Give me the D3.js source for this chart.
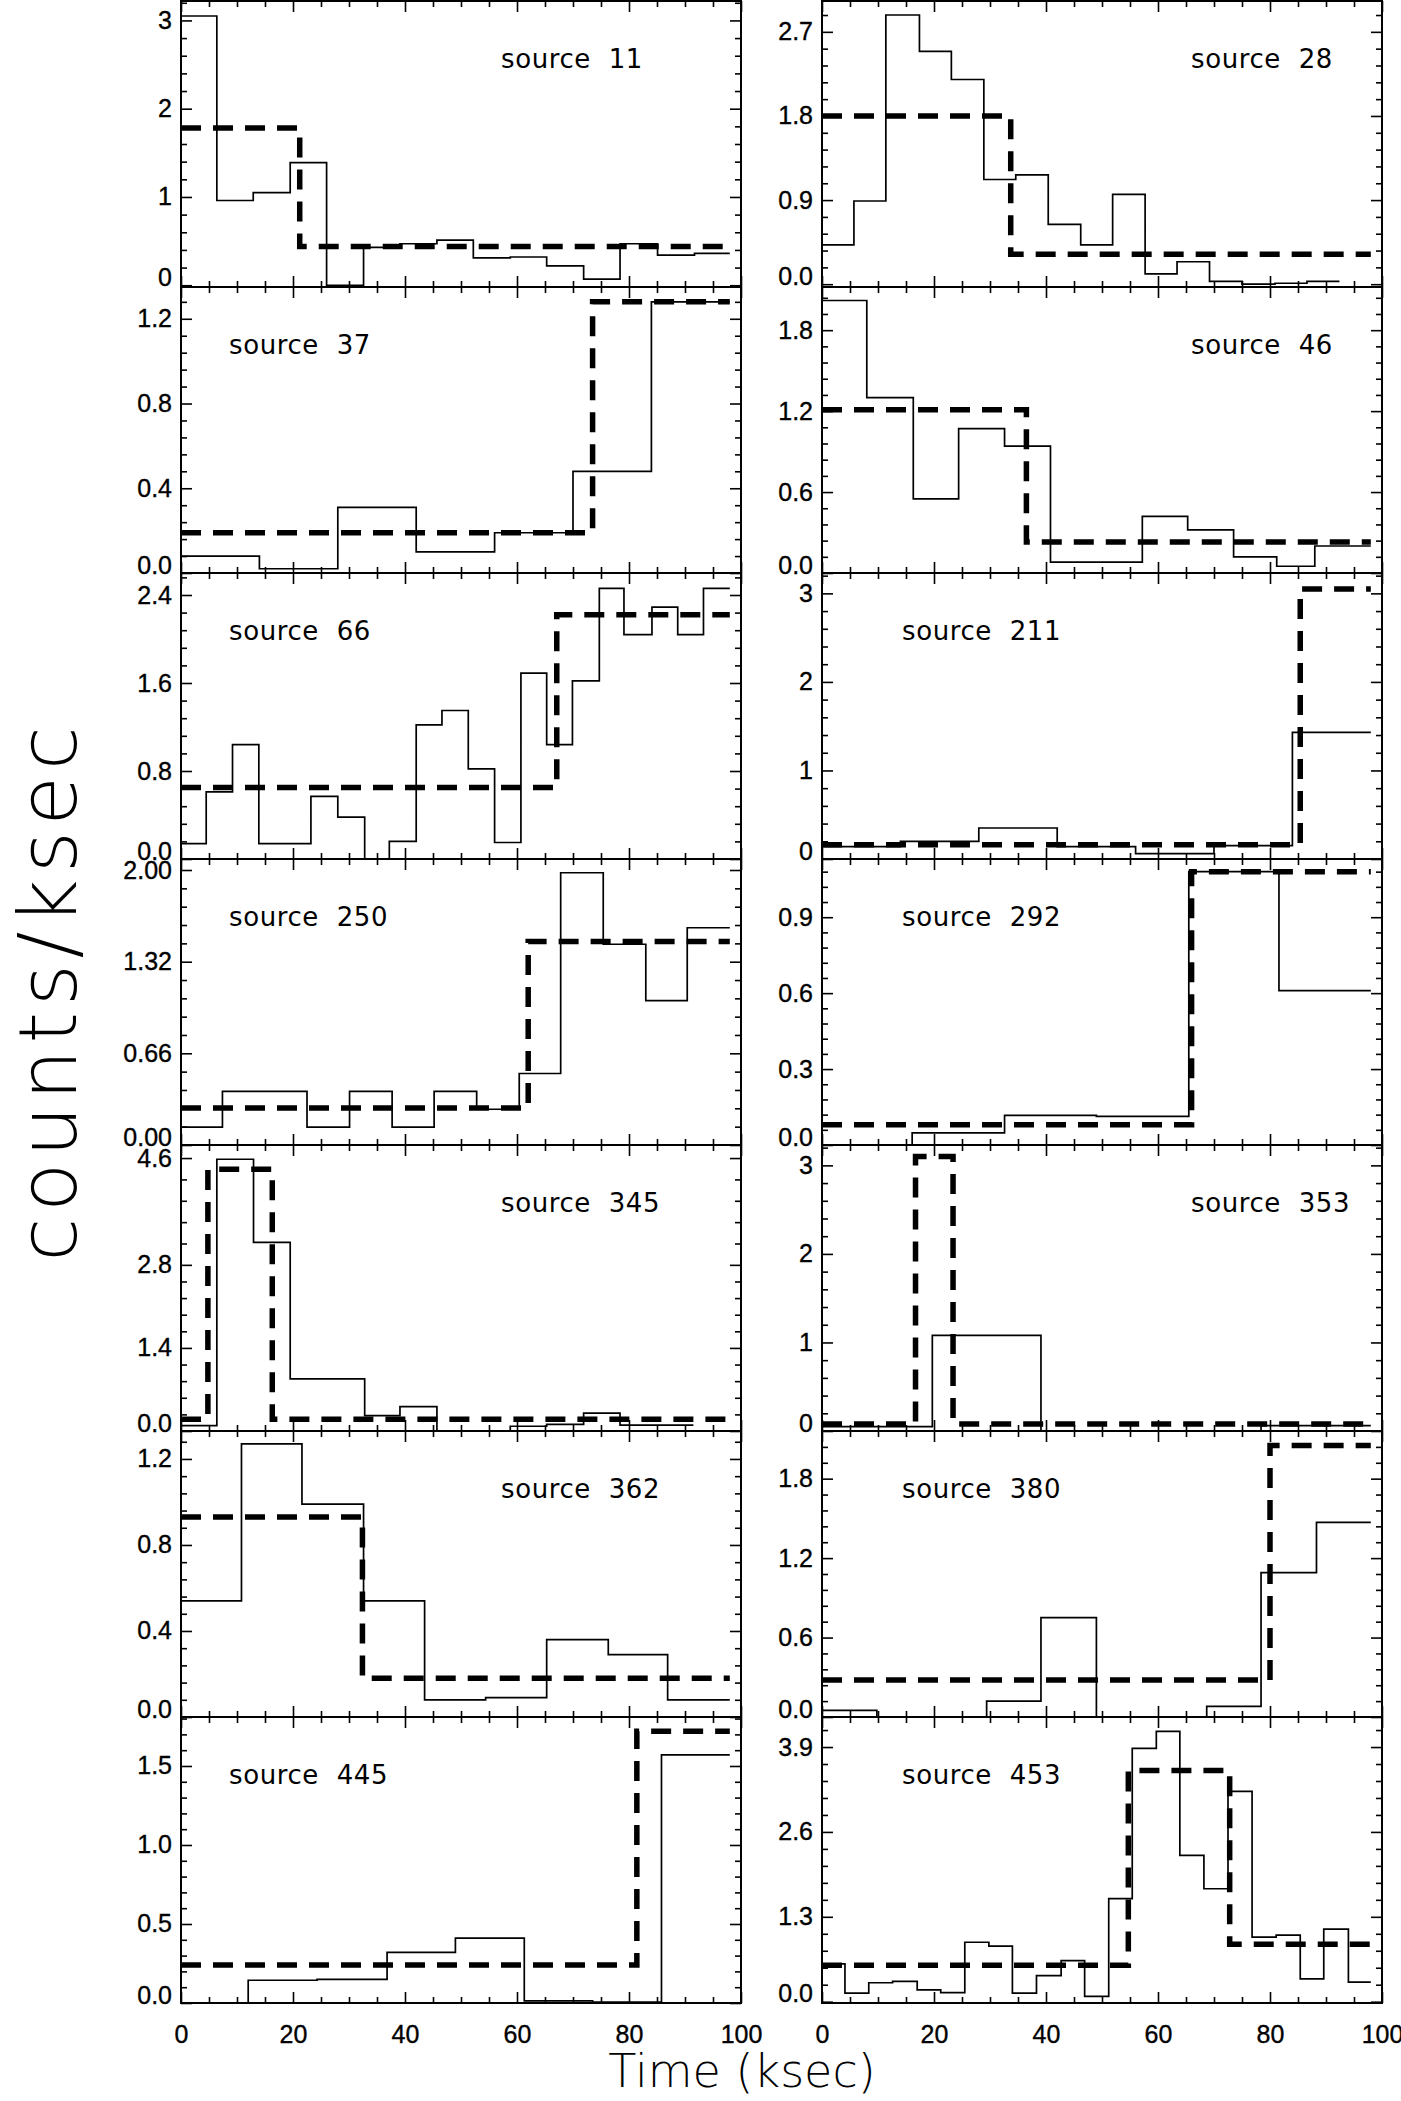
<!DOCTYPE html>
<html>
<head>
<meta charset="utf-8">
<script src="https://d3js.org/d3.v7.min.js"></script>
<style>
  body { margin: 0; background: #fff; }
  svg { display: block; }
  .tick text { font-family: "Liberation Sans", Arial, sans-serif; font-size: 25px; fill: #000; stroke: #000; stroke-width: 0.35px; }
  .tick line { stroke: #000; stroke-width: 1.6px; }
  .lbl { font-family: "DejaVu Sans", sans-serif; fill: #000; white-space: pre; }
</style>
</head>
<body>
<svg id="fig"></svg>
<script>
// panel order: row by row, left column then right column
var sources = [11, 28, 37, 46, 66, 211, 250, 292, 345, 353, 362, 380, 445, 453];

// light curve bins (ksec) and rates (counts/ksec)
var binEdges = [
  [0, 6.4, 12.9, 19.5, 26.0, 32.6, 39.1, 45.7, 52.2, 58.8, 65.3, 71.9, 78.4, 85.1, 91.7, 98.0],
  [0, 5.7, 11.4, 17.4, 23.1, 28.9, 34.6, 40.4, 46.2, 51.9, 57.7, 63.4, 69.2, 75.0, 80.9, 86.6, 92.4],
  [0, 14, 28, 42, 56, 70, 84, 98],
  [0, 8.0, 16.3, 24.4, 32.6, 40.8, 49.0, 57.2, 65.3, 73.5, 81.2, 88.0, 98.0],
  [0, 4.5, 9.2, 13.9, 18.5, 23.2, 28.0, 32.8, 37.2, 42.0, 46.6, 51.3, 56.0, 60.7, 65.3, 69.9, 74.7, 79.1, 84.1, 88.7, 93.3, 98.0],
  [0, 14, 28, 42, 56, 70, 84, 98],
  [0, 7.4, 14.9, 22.5, 30.1, 37.7, 45.2, 52.8, 60.4, 67.8, 75.4, 83.0, 90.4, 98.0],
  [0, 16.1, 32.6, 49.0, 65.5, 81.6, 98],
  [0, 6.4, 12.95, 19.5, 26.0, 32.8, 39.1, 45.7, 52.2, 58.8, 65.3, 71.9, 78.4, 85.0, 91.5],
  [0, 19.7, 39.1, 78.4, 98],
  [0, 10.8, 21.6, 32.6, 43.5, 54.4, 65.3, 76.3, 86.9, 98],
  [0, 9.8, 29.4, 39.1, 49.0, 68.7, 78.4, 88.3, 98],
  [0, 12.0, 24.3, 36.8, 49.0, 61.3, 73.5, 85.8, 98],
  [0, 4.1, 8.35, 12.6, 17.0, 21.2, 25.5, 29.8, 34.0, 38.3, 42.7, 46.9, 51.2, 55.4, 59.7, 63.9, 68.2, 72.5, 76.8, 81.1, 85.4, 89.6, 94.0, 98.0]
];
var rates = [
  [3.05, 0.96, 1.05, 1.39, 0.0, 0.43, 0.47, 0.51, 0.31, 0.32, 0.22, 0.07, 0.47, 0.34, 0.36],
  [0.42, 0.89, 2.88, 2.49, 2.19, 1.12, 1.17, 0.64, 0.42, 0.96, 0.11, 0.24, 0.03, 0.0, 0.01, 0.03],
  [0.08, 0.02, 0.31, 0.10, 0.19, 0.48, 1.28],
  [2.02, 1.30, 0.55, 1.07, 0.94, 0.08, 0.08, 0.42, 0.32, 0.12, 0.05, 0.20],
  [0.14, 0.61, 1.04, 0.14, 0.14, 0.57, 0.38, 0.0, 0.16, 1.22, 1.35, 0.82, 0.15, 1.69, 1.04, 1.62, 2.46, 2.04, 2.29, 2.04, 2.46],
  [0.14, 0.20, 0.35, 0.14, 0.06, 0.15, 1.43],
  [0.13, 0.39, 0.39, 0.13, 0.39, 0.13, 0.39, 0.26, 0.52, 1.98, 1.46, 1.05, 1.58],
  [0.0, 0.048, 0.117, 0.113, 1.08, 0.61],
  [0.09, 4.58, 3.18, 0.88, 0.88, 0.26, 0.41, 0.0, 0.0, 0.08, 0.11, 0.30, 0.10, 0.10],
  [0.05, 1.08, 0.0, 0.06],
  [0.54, 1.27, 0.99, 0.54, 0.08, 0.09, 0.36, 0.29, 0.08],
  [0.05, 0.0, 0.12, 0.75, 0.0, 0.08, 1.09, 1.47],
  [0.0, 0.144, 0.15, 0.32, 0.41, 0.013, 0.005, 1.57],
  [0.58, 0.13, 0.29, 0.31, 0.18, 0.14, 0.91, 0.85, 0.13, 0.40, 0.63, 0.08, 1.58, 3.88, 4.14, 2.24, 1.73, 3.22, 0.99, 1.02, 0.35, 1.11, 0.30]
];

// bayesian block change points and block rates (dashed)
var blockEdges = [
  [0, 21.2, 98], [0, 33.7, 98], [0, 73.5, 98], [0, 36.5, 98], [0, 67.1, 98], [0, 85.4, 98], [0, 62.0, 98],
  [0, 66.0, 98], [0, 4.8, 16.3, 98], [0, 16.7, 23.4, 98], [0, 32.4, 98], [0, 80.0, 98], [0, 81.4, 98], [0, 54.7, 72.8, 98]
];
var blockRates = [
  [1.78, 0.44], [1.80, 0.32], [0.19, 1.28], [1.21, 0.23], [0.65, 2.22], [0.16, 3.05], [0.27, 1.48],
  [0.08, 1.08], [0.20, 4.41, 0.20], [0.08, 3.10, 0.08], [0.93, 0.18], [0.28, 2.05], [0.24, 1.72], [0.56, 3.54, 0.88]
];

var yRanges = [
  [-0.02, 3.22], [-0.03, 3.03], [0, 1.35], [0, 2.12], [0, 2.6], [0, 3.23], [0, 2.08],
  [0, 1.13], [0, 4.82], [0, 3.23], [0, 1.33], [0, 2.16], [0, 1.81], [-0.02, 4.36]
];
var yTicks = [
  [0, 1, 2, 3], [0, 0.9, 1.8, 2.7], [0, 0.4, 0.8, 1.2], [0, 0.6, 1.2, 1.8], [0, 0.8, 1.6, 2.4],
  [0, 1, 2, 3], [0, 0.667, 1.333, 2.0], [0, 0.3, 0.6, 0.9], [0, 1.4, 2.8, 4.6], [0, 1, 2, 3],
  [0, 0.4, 0.8, 1.2], [0, 0.6, 1.2, 1.8], [0, 0.5, 1.0, 1.5], [0, 1.3, 2.6, 3.9]
];
var yTickLabels = [
  ["0", "1", "2", "3"], ["0.0", "0.9", "1.8", "2.7"], ["0.0", "0.4", "0.8", "1.2"], ["0.0", "0.6", "1.2", "1.8"],
  ["0.0", "0.8", "1.6", "2.4"], ["0", "1", "2", "3"], ["0.00", "0.66", "1.32", "2.00"], ["0.0", "0.3", "0.6", "0.9"],
  ["0.0", "1.4", "2.8", "4.6"], ["0", "1", "2", "3"], ["0.0", "0.4", "0.8", "1.2"], ["0.0", "0.6", "1.2", "1.8"],
  ["0.0", "0.5", "1.0", "1.5"], ["0.0", "1.3", "2.6", "3.9"]
];
var labelSide = ["right", "right", "left", "right", "left", "left", "left", "left", "right", "right", "right", "left", "left", "left"];
var xTicks = [0, 20, 40, 60, 80, 100];
var xMinor = [5, 10, 15, 25, 30, 35, 45, 50, 55, 65, 70, 75, 85, 90, 95];

// layout
var W = 1401, H = 2101;
var colX = [181, 822], panelW = 560;
var top0 = 1, panelH = 286;
var labelDx = [{left: 48, right: 320}, {left: 80, right: 369}];

var svg = d3.select("#fig").attr("width", W).attr("height", H);
svg.append("rect").attr("width", W).attr("height", H).attr("fill", "#fff");

var x = d3.scaleLinear().domain([0, 100]).range([0, panelW]);

function minorTicks(major, dom) {
  var out = [];
  for (var i = 0; i < major.length - 1; i++) {
    var st = (major[i + 1] - major[i]) / 5;
    for (var j = 1; j < 5; j++) out.push(major[i] + j * st);
  }
  var last = major[major.length - 1], s = (major[major.length - 1] - major[major.length - 2]) / 5;
  for (var v = last + s; v < dom[1]; v += s) out.push(v);
  for (var v2 = major[0] - s; v2 > dom[0]; v2 -= s) out.push(v2);
  return out;
}

sources.forEach(function(src, k) {
  var row = Math.floor(k / 2), col = k % 2;
  var gx = colX[col], gy = top0 + row * panelH;
  var g = svg.append("g").attr("transform", "translate(" + gx + "," + gy + ")");
  var y = d3.scaleLinear().domain(yRanges[k]).range([panelH, 0]);

  g.append("clipPath").attr("id", "clip" + k)
    .append("rect").attr("width", panelW).attr("height", panelH);

  var step = d3.line().curve(d3.curveStepAfter)
    .x(function(d) { return x(d[0]); })
    .y(function(d) { return y(d[1]); });

  var lc = binEdges[k].map(function(e, i) { return [e, rates[k][Math.min(i, rates[k].length - 1)]]; });
  var bb = blockEdges[k].map(function(e, i) { return [e, blockRates[k][Math.min(i, blockRates[k].length - 1)]]; });

  var plot = g.append("g").attr("clip-path", "url(#clip" + k + ")");
  plot.append("path").datum(lc).attr("d", step)
    .attr("fill", "none").attr("stroke", "#000").attr("stroke-width", 1.7);
  plot.append("path").datum(bb).attr("d", step)
    .attr("fill", "none").attr("stroke", "#000").attr("stroke-width", 5.5)
    .attr("stroke-dasharray", "20,12");

  // y axes, both sides, inward ticks
  var labs = yTickLabels[k];
  var ax = g.append("g").call(d3.axisLeft(y).tickValues(yTicks[k]).tickSizeInner(-11).tickSizeOuter(0).tickPadding(9)
      .tickFormat(function(d, i) { return labs[i]; }));
  // lowest label sits a little above the panel floor, as in the original
  ax.selectAll(".tick text").filter(function(d, i) { return i === 0; }).attr("y", -8);
  var mn = minorTicks(yTicks[k], yRanges[k]);
  g.append("g").call(d3.axisLeft(y).tickValues(mn).tickSizeInner(-6).tickSizeOuter(0).tickFormat(""));
  g.append("g").attr("transform", "translate(" + panelW + ",0)")
    .call(d3.axisRight(y).tickValues(yTicks[k]).tickSizeInner(-11).tickSizeOuter(0).tickFormat(""));
  g.append("g").attr("transform", "translate(" + panelW + ",0)")
    .call(d3.axisRight(y).tickValues(mn).tickSizeInner(-6).tickSizeOuter(0).tickFormat(""));

  // x axes top and bottom
  var isBottom = row === 6;
  g.append("g").attr("transform", "translate(0," + panelH + ")")
    .call(d3.axisBottom(x).tickValues(xTicks).tickSizeInner(-11).tickSizeOuter(0).tickPadding(22)
      .tickFormat(isBottom ? d3.format("d") : ""));
  g.append("g").attr("transform", "translate(0," + panelH + ")")
    .call(d3.axisBottom(x).tickValues(xMinor).tickSizeInner(-6).tickSizeOuter(0).tickFormat(""));
  g.append("g").call(d3.axisTop(x).tickValues(xTicks).tickSizeInner(-11).tickSizeOuter(0).tickFormat(""));
  g.append("g").call(d3.axisTop(x).tickValues(xMinor).tickSizeInner(-6).tickSizeOuter(0).tickFormat(""));

  g.selectAll(".domain").remove();

  g.append("rect").attr("width", panelW).attr("height", panelH)
    .attr("fill", "none").attr("stroke", "#000").attr("stroke-width", 2);

  g.append("text").attr("class", "lbl")
    .attr("x", labelDx[col][labelSide[k]]).attr("y", 67)
    .style("font-size", "26px").style("letter-spacing", "0.6px")
    .text("source  " + src);
});

svg.append("text").attr("class", "lbl")
  .attr("transform", "translate(76,991) rotate(-90)")
  .attr("text-anchor", "middle").style("font-size", "80px").style("font-weight", 200)
  .style("letter-spacing", "6px")
  .text("counts/ksec");

svg.append("text").attr("class", "lbl")
  .attr("x", 742).attr("y", 2087)
  .attr("text-anchor", "middle").style("font-size", "46px").style("font-weight", 200)
  .text("Time (ksec)");
</script>
</body>
</html>
